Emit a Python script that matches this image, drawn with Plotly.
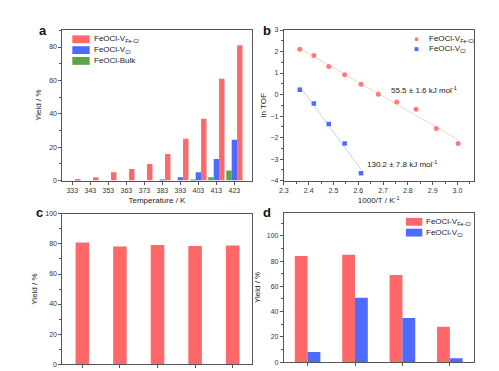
import numpy as np
import plotly.graph_objects as go

# ---------------- data ----------------
temps = [333, 343, 353, 363, 373, 383, 393, 403, 413, 423]
yield_fecl = [1, 2, 5, 7, 10, 16, 25, 37, 61, 81]
yield_cl = [0, 0, 0, 0, 0, 0.5, 2, 5, 13, 24.5]
yield_bulk = [0, 0, 0, 0, 0, 0, 0, 0.5, 2, 6]

inv_t_fecl = [2.364, 2.421, 2.481, 2.545, 2.611, 2.681, 2.755, 2.833, 2.915, 3.003]
lntof_fecl = [2.1, 1.82, 1.3, 0.92, 0.48, 0.01, -0.35, -0.68, -1.58, -2.28]
inv_t_cl = [2.364, 2.421, 2.481, 2.545, 2.611]
lntof_cl = [0.22, -0.42, -1.37, -2.28, -3.66]

ea_labels = ["55.5 ± 1.6 kJ mol<sup>-1</sup>", "130.2 ± 7.8 kJ mol<sup>-1</sup>"]

cycles = [1, 2, 3, 4, 5]
yield_cycles = [81, 78.3, 79.3, 78.7, 79.0]

samples_d = [1, 2, 3, 4]
yield_d_fecl = [84, 85, 69, 28]
yield_d_cl = [8, 51, 35, 3]

names = ["FeOCl-V<sub>Fe-Cl</sub>", "FeOCl-V<sub>Cl</sub>", "FeOCl-Bulk"]

# ---------------- style ----------------
RED = "#FF6868"
BLUE = "#4D6BFF"
GREEN = "#5BA546"
W, H = 499, 371
FONT = "Liberation Sans, Arial, sans-serif"
AX = "#555555"


def px(x):
    return x / W


def py(y):
    return 1 - y / H


fig = go.Figure()

# panel a
fig.add_bar(x=temps, y=yield_bulk, width=3, offset=-4.5, marker=dict(color=GREEN, line_width=0),
            xaxis="x", yaxis="y", showlegend=False)
fig.add_bar(x=temps, y=yield_cl, width=3, offset=-1.5, marker=dict(color=BLUE, line_width=0),
            xaxis="x", yaxis="y", showlegend=False)
fig.add_bar(x=temps, y=yield_fecl, width=3, offset=1.5, marker=dict(color=RED, line_width=0),
            xaxis="x", yaxis="y", showlegend=False)

# panel b: fit lines
for xs, ys, col in [(inv_t_fecl, lntof_fecl, RED), (inv_t_cl, lntof_cl, BLUE)]:
    k, b = np.polyfit(xs, ys, 1)
    xf = np.array([min(xs), max(xs)])
    fig.add_scatter(x=xf, y=k * xf + b, mode="lines", line=dict(color=col, width=0.8),
                    opacity=0.4, xaxis="x2", yaxis="y2", showlegend=False)
fig.add_scatter(x=inv_t_fecl, y=lntof_fecl, mode="markers",
                marker=dict(symbol="circle", size=5, color="#FF7A7A"),
                xaxis="x2", yaxis="y2", showlegend=False)
fig.add_scatter(x=inv_t_cl, y=lntof_cl, mode="markers",
                marker=dict(symbol="square", size=4.5, color=BLUE),
                xaxis="x2", yaxis="y2", showlegend=False)

# panel c
fig.add_bar(x=cycles, y=yield_cycles, width=0.36, offset=-0.18, marker=dict(color=RED, line_width=0),
            xaxis="x3", yaxis="y3", showlegend=False)

# panel d
fig.add_bar(x=samples_d, y=yield_d_fecl, width=0.27, offset=-0.27, marker=dict(color=RED, line_width=0),
            xaxis="x4", yaxis="y4", showlegend=False)
fig.add_bar(x=samples_d, y=yield_d_cl, width=0.27, offset=0, marker=dict(color=BLUE, line_width=0),
            xaxis="x4", yaxis="y4", showlegend=False)


def axis(**kw):
    d = dict(showline=True, linecolor=AX, linewidth=1, mirror=True, ticks="outside",
             ticklen=3, tickcolor=AX, tickwidth=1, showgrid=False, zeroline=False,
             tickfont=dict(size=7, color="#333", family=FONT),
             title_font=dict(size=8, color="#222", family=FONT))
    d.update(kw)
    return d


def minor(dt):
    return dict(dtick=dt, ticks="outside", ticklen=2, tickcolor=AX, showgrid=False)


fig.update_layout(
    width=W, height=H, margin=dict(l=0, r=0, t=0, b=0),
    paper_bgcolor="white", plot_bgcolor="white", barmode="overlay",
    font=dict(family=FONT, color="#222"),
    xaxis=axis(domain=[px(58), px(249)], anchor="y", range=[327.5, 432.5],
               tickvals=temps, title=dict(text="Temperature / K", standoff=4)),
    yaxis=axis(domain=[py(180), py(26)], anchor="x", range=[0, 90.5], dtick=20,
               minor=minor(10), title=dict(text="Yield / %", standoff=6)),
    xaxis2=axis(domain=[px(281.7), px(473.3)], anchor="y2", range=[2.3, 3.065], dtick=0.1,
                tickformat=".1f", minor=minor(0.05),
                title=dict(text="1000/T / K<sup>-1</sup>", standoff=4)),
    yaxis2=axis(domain=[py(180), py(26.5)], anchor="x2", range=[-4, 3], dtick=1,
                minor=minor(0.5), title=dict(text="ln TOF", standoff=2)),
    xaxis3=axis(domain=[px(58), px(249)], anchor="y3", range=[0.47, 5.5],
                tickvals=cycles, showticklabels=False),
    yaxis3=axis(domain=[py(367), py(214)], anchor="x3", range=[0, 100], dtick=20,
                minor=minor(10), title=dict(text="Yield / %", standoff=6)),
    xaxis4=axis(domain=[px(281.7), px(473.3)], anchor="y4", range=[0.5, 4.5],
                tickvals=samples_d, showticklabels=False),
    yaxis4=axis(domain=[py(365), py(212.7)], anchor="x4", range=[0, 118.3], dtick=20,
                minor=minor(10), title=dict(text="Yield / %", standoff=4)),
)

shapes = []
annotations = []

# panel letters
for letter, (lx, ly) in zip("abcd", [(38, 27), (265, 27), (35, 213), (265, 213)]):
    annotations.append(dict(text=f"<b>{letter}</b>", x=px(lx), y=py(ly), xref="paper", yref="paper",
                            showarrow=False, font=dict(size=13, color="#111", family=FONT),
                            xanchor="center", yanchor="middle"))

# legend a
for name, col, cy in zip(names, [RED, BLUE, GREEN], [36, 47, 58]):
    shapes.append(dict(type="rect", xref="paper", yref="paper", x0=px(68), x1=px(85.5),
                       y0=py(cy + 4), y1=py(cy - 4), fillcolor=col, line_width=0))
    annotations.append(dict(text=name, x=px(88), y=py(cy), xref="paper", yref="paper",
                            showarrow=False, xanchor="left", yanchor="middle",
                            font=dict(size=8, color="#222", family=FONT)))

# legend b
for name, col, cy, sym in zip(names[:2], ["#FF7A7A", BLUE], [36, 46], ["circle", "rect"]):
    shapes.append(dict(type=sym, xref="paper", yref="paper", x0=px(413.7), x1=px(417.7),
                       y0=py(cy + 2), y1=py(cy - 2), fillcolor=col, line_width=0))
    annotations.append(dict(text=name, x=px(426), y=py(cy), xref="paper", yref="paper",
                            showarrow=False, xanchor="left", yanchor="middle",
                            font=dict(size=8, color="#222", family=FONT)))

# legend d
for name, col, cy in zip(names[:2], [RED, BLUE], [222, 233]):
    shapes.append(dict(type="rect", xref="paper", yref="paper", x0=px(405), x1=px(421.5),
                       y0=py(cy + 4), y1=py(cy - 4), fillcolor=col, line_width=0))
    annotations.append(dict(text=name, x=px(423.5), y=py(cy), xref="paper", yref="paper",
                            showarrow=False, xanchor="left", yanchor="middle",
                            font=dict(size=8, color="#222", family=FONT)))

# activation energies
for txt, (ax_, ay_) in zip(ea_labels, [(387.7, 87.3), (364, 163.3)]):
    annotations.append(dict(text=txt, x=px(ax_), y=py(ay_), xref="paper", yref="paper",
                            showarrow=False, xanchor="left", yanchor="middle",
                            font=dict(size=8, color="#222", family=FONT)))

fig.update_layout(shapes=shapes, annotations=annotations)
fig.write_html("out.html", config={"displayModeBar": False},
               post_script="document.body.style.margin='0';document.body.style.overflow='hidden';")
